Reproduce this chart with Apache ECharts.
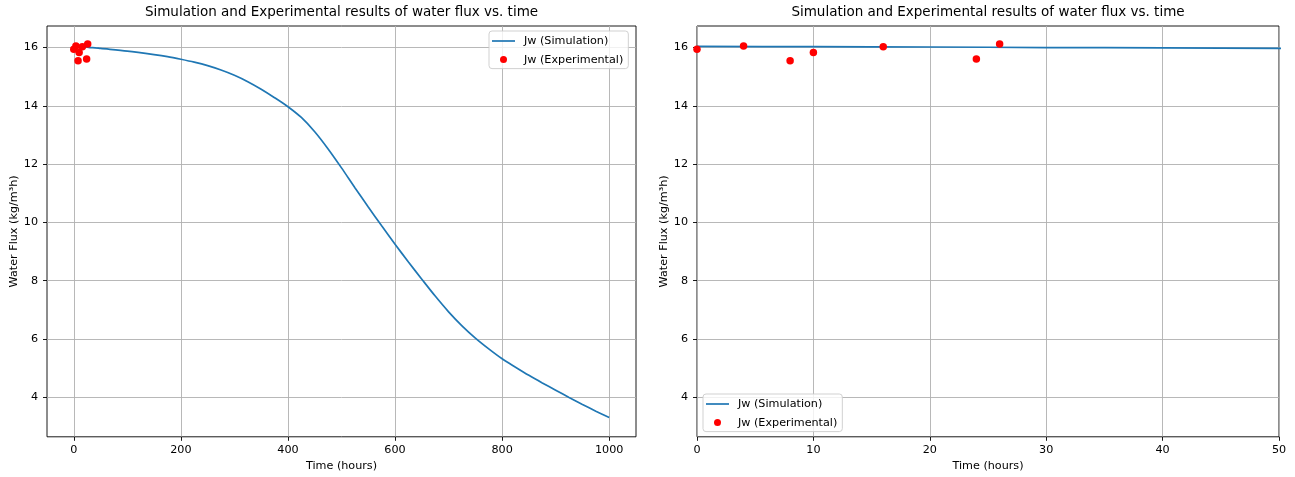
<!DOCTYPE html>
<html>
<head>
<meta charset="utf-8">
<title>Water flux vs. time</title>
<script src="https://cdn.jsdelivr.net/npm/echarts@6/dist/echarts.min.js"></script>
<style>
  html, body { margin: 0; padding: 0; background: #fff; }
  #chart { width: 1295px; height: 477px; }
</style>
</head>
<body>
<div id="chart"></div>
<script>
// Simulated water flux (kg/m³h) over time (hours)
const simTime = [0, 10, 20, 30, 40, 50, 100, 150, 175, 200, 225, 250, 275, 300, 325, 350,
                 375, 400, 425, 450, 475, 500, 525, 550, 575, 600, 625, 650, 675, 700,
                 725, 750, 775, 800, 825, 850, 875, 900, 925, 950, 975, 1000];
const simFlux = [16.04, 16.03, 16.02, 16.00, 15.99, 15.97, 15.88, 15.76, 15.69, 15.60, 15.50,
                 15.38, 15.23, 15.05, 14.83, 14.57, 14.28, 13.97, 13.60, 13.11, 12.52, 11.87,
                 11.19, 10.53, 9.88, 9.25, 8.64, 8.05, 7.47, 6.93, 6.45, 6.03, 5.66, 5.32,
                 5.03, 4.75, 4.49, 4.24, 3.99, 3.75, 3.52, 3.30];

// Measured water flux
const expTime = [0, 4, 8, 10, 16, 24, 26];
const expFlux = [15.94, 16.05, 15.55, 15.83, 16.03, 15.61, 16.12];

// Tick labels
const fluxTicks = [4, 6, 8, 10, 12, 14, 16];
const timeTicksFull = [0, 200, 400, 600, 800, 1000];

const TITLE = 'Simulation and Experimental results of water flux vs. time';
const SIM_NAME = 'Jw (Simulation)';
const EXP_NAME = 'Jw (Experimental)';
const FONT = 'DejaVu Sans';
const BLUE = '#1f77b4';

const simPairs = simTime.map((t, i) => [t, simFlux[i]]);
const expPairs = expTime.map((t, i) => [t, expFlux[i]]);

const grids = [
  { left: 47, top: 26, width: 589, height: 410.8 },
  { left: 697, top: 26, width: 582, height: 410.8 }
];

function baseAxisStyle() {
  return {
    axisLine: { show: false, onZero: false },
    axisTick: { show: true, inside: false, length: 4, lineStyle: { color: '#000', width: 0.9 } },
    axisLabel: { color: '#000', fontFamily: FONT, fontSize: 11.2, margin: 8,
                 formatter: v => String(v) },
    splitLine: { show: true, lineStyle: { color: '#b0b0b0', width: 0.9 } },
    nameTextStyle: { color: '#000', fontFamily: FONT, fontSize: 11.2 }
  };
}

function xAxis(gridIndex, extra) {
  const a = baseAxisStyle();
  return Object.assign({
    type: 'value', gridIndex,
    name: 'Time (hours)', nameLocation: 'middle', nameGap: 23
  }, a, extra);
}

function yAxis(gridIndex) {
  const a = baseAxisStyle();
  a.axisLabel.margin = 9;
  a.axisLabel.customValues = fluxTicks;
  a.axisTick.customValues = fluxTicks;
  return Object.assign({
    type: 'value', gridIndex, min: 2.64, max: 16.74,
    name: 'Water Flux (kg/m³h)', nameLocation: 'middle', nameGap: 27
  }, a);
}

const xLeft = xAxis(0, { min: -50, max: 1050 });
xLeft.axisLabel.customValues = timeTicksFull;
xLeft.axisTick.customValues = timeTicksFull;
const xRight = xAxis(1, { min: 0, max: 50, interval: 10 });

function legend(left, top) {
  return {
    orient: 'vertical', left, top,
    data: [
      { name: SIM_NAME, icon: 'path://M0,0L23,0L23,1.7L0,1.7Z' },
      { name: EXP_NAME, icon: 'circle' }
    ],
    itemWidth: 23, itemHeight: 7, itemGap: 4.6,
    padding: [3, 5, 2, 3],
    backgroundColor: 'rgba(255,255,255,0.8)',
    borderColor: '#cccccc', borderWidth: 0.9, borderRadius: 3,
    selectedMode: false,
    textStyle: { color: '#000', fontFamily: FONT, fontSize: 11.2, lineHeight: 14, padding: [0, 0, 0, 4] }
  };
}

function simSeries(idx) {
  return {
    name: SIM_NAME, type: 'line', xAxisIndex: idx, yAxisIndex: idx,
    data: simPairs, symbol: 'none', smooth: 0.3,
    lineStyle: { color: BLUE, width: 1.7 }, itemStyle: { color: BLUE },
    clip: true, z: 2, silent: true
  };
}

function expSeries(idx) {
  return {
    name: EXP_NAME, type: 'scatter', xAxisIndex: idx, yAxisIndex: idx,
    data: expPairs, symbol: 'circle', symbolSize: 7.5,
    itemStyle: { color: '#ff0000', opacity: 1 }, z: 3, silent: true
  };
}

const titleStyle = { color: '#000', fontFamily: FONT, fontSize: 13.5, fontWeight: 'normal' };

const chart = echarts.init(document.getElementById('chart'), null, { renderer: 'canvas' });
chart.setOption({
  animation: false,
  backgroundColor: '#fff',
  title: [
    { text: TITLE, left: 341.5, top: 5, padding: 0, textAlign: 'center', textStyle: titleStyle },
    { text: TITLE, left: 988, top: 5, padding: 0, textAlign: 'center', textStyle: titleStyle }
  ],
  grid: grids.map(g => Object.assign({ show: true, borderColor: '#000', borderWidth: 0.9,
                                         backgroundColor: 'transparent' }, g)),
  legend: [legend(489, 31), legend(703, 394)],
  xAxis: [xLeft, xRight],
  yAxis: [yAxis(0), yAxis(1)],
  series: [simSeries(0), expSeries(0), simSeries(1), expSeries(1)]
});
</script>
</body>
</html>
